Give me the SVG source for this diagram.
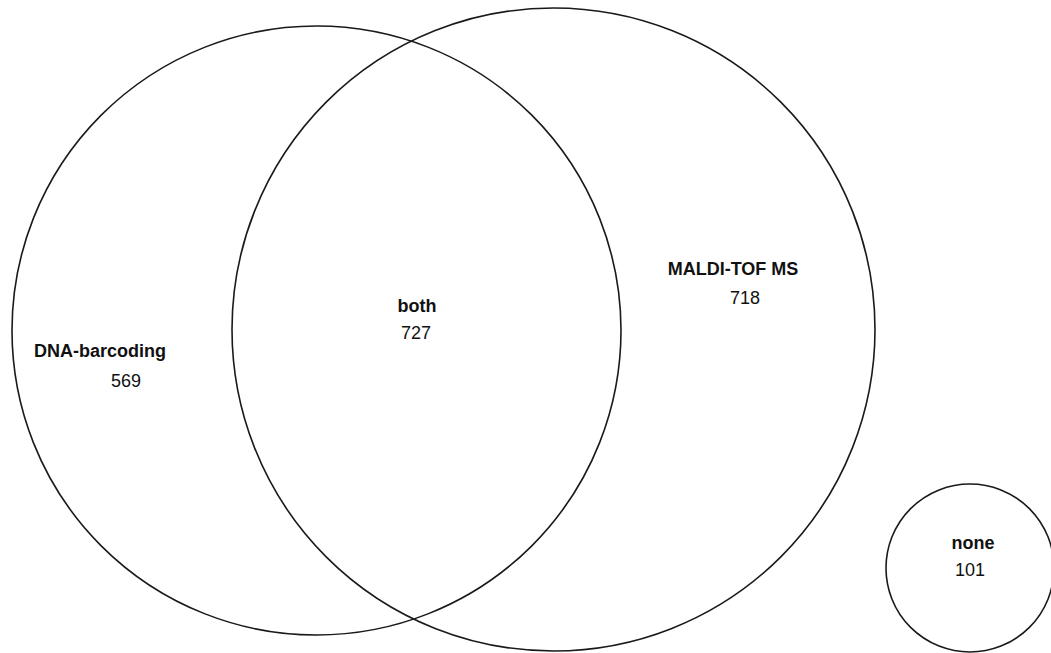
<svg xmlns="http://www.w3.org/2000/svg" width="1051" height="653" viewBox="0 0 1051 653">
<style>
.c{fill:none;stroke:#1a1a1a;stroke-width:1.6}
.l{font-family:"Liberation Sans",Arial,sans-serif;font-size:18px;font-weight:bold;fill:#111;text-anchor:middle}
.n{font-family:"Liberation Sans",Arial,sans-serif;font-size:18px;fill:#111;text-anchor:middle}
</style>
<rect width="1051" height="653" fill="#fff"/>
<g id="dna">
<circle class="c" cx="316.5" cy="330.5" r="304.5"/>
<text class="l" x="100" y="357">DNA-barcoding</text>
<text class="n" x="126" y="387">569</text>
</g>
<g id="maldi">
<circle class="c" cx="553.5" cy="329.5" r="321.5"/>
<text class="l" x="733" y="275">MALDI-TOF MS</text>
<text class="n" x="745" y="304">718</text>
</g>
<g id="both">
<text class="l" x="417" y="312">both</text>
<text class="n" x="416" y="339">727</text>
</g>
<g id="none">
<circle class="c" cx="970" cy="568" r="84"/>
<text class="l" x="973" y="549">none</text>
<text class="n" x="970" y="576">101</text>
</g>
<g id="connectors"/>
</svg>
